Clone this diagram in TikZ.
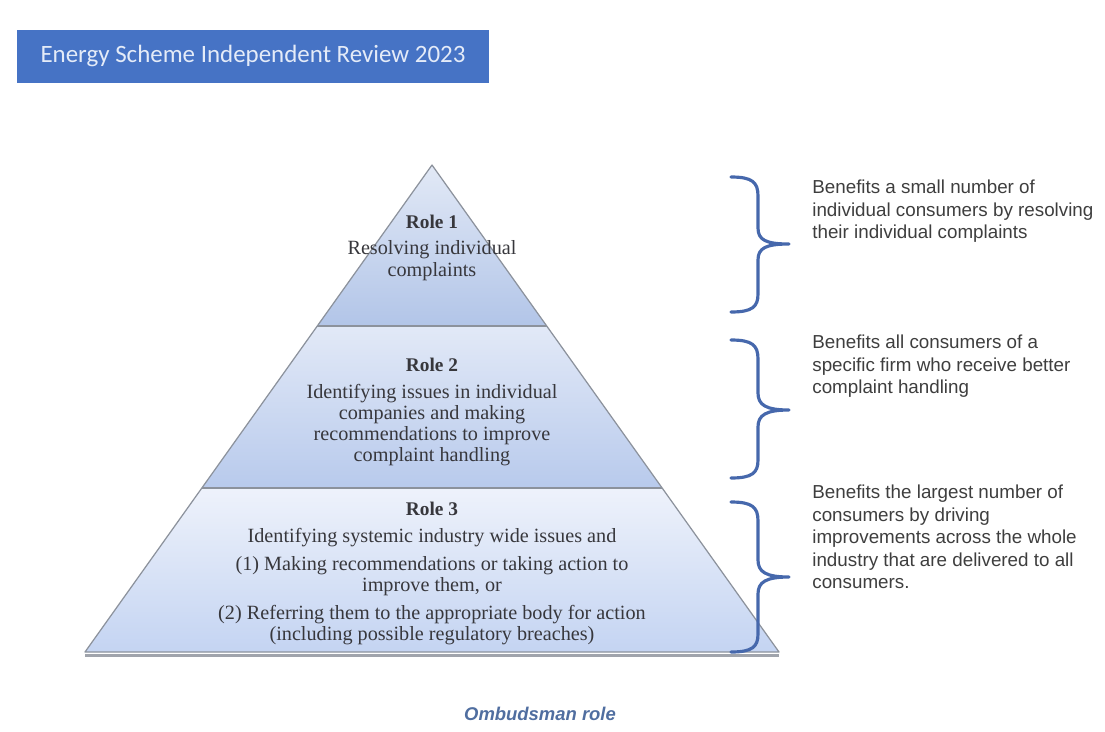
\documentclass[tikz,border=0pt]{standalone}
\usepackage{fontspec}
\setmainfont{Liberation Serif}
\newfontfamily\bannerfont{Carlito}
\newfontfamily\notefont{Liberation Sans}
\usetikzlibrary{positioning}
\definecolor{bannerblue}{RGB}{70,115,197}
\definecolor{bannertext}{RGB}{228,235,248}
\definecolor{edgegray}{RGB}{140,146,156}
\definecolor{shadowgray}{RGB}{160,164,172}
\definecolor{rolegray}{RGB}{55,55,60}
\definecolor{bracecol}{RGB}{70,104,172}
\definecolor{notegray}{RGB}{62,62,62}
\definecolor{captionblue}{RGB}{80,110,160}
\definecolor{tierAtop}{RGB}{226,233,246}
\definecolor{tierAbot}{RGB}{178,197,232}
\definecolor{tierBtop}{RGB}{226,233,247}
\definecolor{tierBbot}{RGB}{184,202,236}
\definecolor{tierCtop}{RGB}{238,242,251}
\definecolor{tierCbot}{RGB}{196,212,242}

\begin{document}
\begin{tikzpicture}[
    x=0.02cm, y=-0.02cm,
    banner/.style={rectangle, fill=bannerblue, text=bannertext, minimum width=9.44cm, minimum height=1.06cm, font=\bannerfont\fontsize{14.2}{16}\selectfont},
    tier/.style={draw=edgegray, line width=0.7pt, line join=round},
    roletitle/.style={font=\bfseries\fontsize{11}{12}\selectfont, text=rolegray, inner sep=1pt},
    roletext/.style={font=\fontsize{11.5}{12}\selectfont, text=rolegray, align=center, inner sep=1pt},
    brace/.style={draw=bracecol, line width=1.8pt, line cap=round, line join=round},
    note/.style={font=\notefont\fontsize{10.7}{12.8}\selectfont, text=notegray, align=left, anchor=north west, inner sep=0pt}
]
\useasboundingbox (0,0) rectangle (1105,731);

% header banner
\node[banner] (title) at (253,56) {Energy Scheme Independent Review 2023};

% pyramid corners
\coordinate (apex) at (432,165);
\coordinate (t1l) at (317,326);
\coordinate (t1r) at (547,326);
\coordinate (t2l) at (202,488);
\coordinate (t2r) at (662,488);
\coordinate (t3l) at (85,652);
\coordinate (t3r) at (779,652);

% tiers
\shade[top color=tierAtop, bottom color=tierAbot] (apex) -- (t1r) -- (t1l) -- cycle;
\shade[top color=tierBtop, bottom color=tierBbot] (t1l) -- (t1r) -- (t2r) -- (t2l) -- cycle;
\shade[top color=tierCtop, bottom color=tierCbot] (t2l) -- (t2r) -- (t3r) -- (t3l) -- cycle;
\draw[shadowgray, line width=2.2pt] ([yshift=-2pt]t3l) -- ([yshift=-2pt]t3r);
\draw[tier] (apex) -- (t3r) -- (t3l) -- cycle;
\draw[tier, line width=1pt] (t1l) -- (t1r);
\draw[tier, line width=1pt] (t2l) -- (t2r);

% role labels
\node[roletitle] (role1) at (432,222) {Role 1};
\node[roletext, below=4.5pt of role1] (role1txt) {Resolving individual\\complaints};
\node[roletitle] (role2) at (432,365) {Role 2};
\node[roletext, below=4.5pt of role2] (role2txt) {Identifying issues in individual\\companies and making\\recommendations to improve\\complaint handling};
\node[roletitle] (role3) at (432,509) {Role 3};
\node[roletext, below=4.5pt of role3] (role3txt) {Identifying systemic industry wide issues and\\[4pt]
  (1) Making recommendations or taking action to\\improve them, or\\[4pt]
  (2) Referring them to the appropriate body for action\\(including possible regulatory breaches)};

% braces
\draw[brace] (731,177) .. controls (752,177) and (758,182) .. (758,196) -- (758,228)
  .. controls (758,240) and (766,244) .. (789,244)
  .. controls (766,244) and (758,248) .. (758,260) -- (758,294)
  .. controls (758,307) and (752,312) .. (731,312);
\draw[brace] (731,340) .. controls (752,340) and (758,345) .. (758,359) -- (758,393)
  .. controls (758,405) and (766,410) .. (789,410)
  .. controls (766,410) and (758,415) .. (758,427) -- (758,460)
  .. controls (758,473) and (752,478) .. (731,478);
\draw[brace] (731,502) .. controls (752,502) and (758,507) .. (758,521) -- (758,560)
  .. controls (758,572) and (766,577) .. (789,577)
  .. controls (766,577) and (758,582) .. (758,594) -- (758,634)
  .. controls (758,647) and (752,652) .. (731,652);

% benefit notes
\node[note] (note1) at (812,180) {Benefits a small number of\\individual consumers by resolving\\their individual complaints};
\node[note] (note2) at (812,335) {Benefits all consumers of a\\specific firm who receive better\\complaint handling};
\node[note] (note3) at (812,485) {Benefits the largest number of\\consumers by driving\\improvements across the whole\\industry that are delivered to all\\consumers.};

% caption
\node[font=\notefont\bfseries\itshape\fontsize{10.5}{12}\selectfont, text=captionblue] (caption) at (540,714) {Ombudsman role};
\end{tikzpicture}
\end{document}
